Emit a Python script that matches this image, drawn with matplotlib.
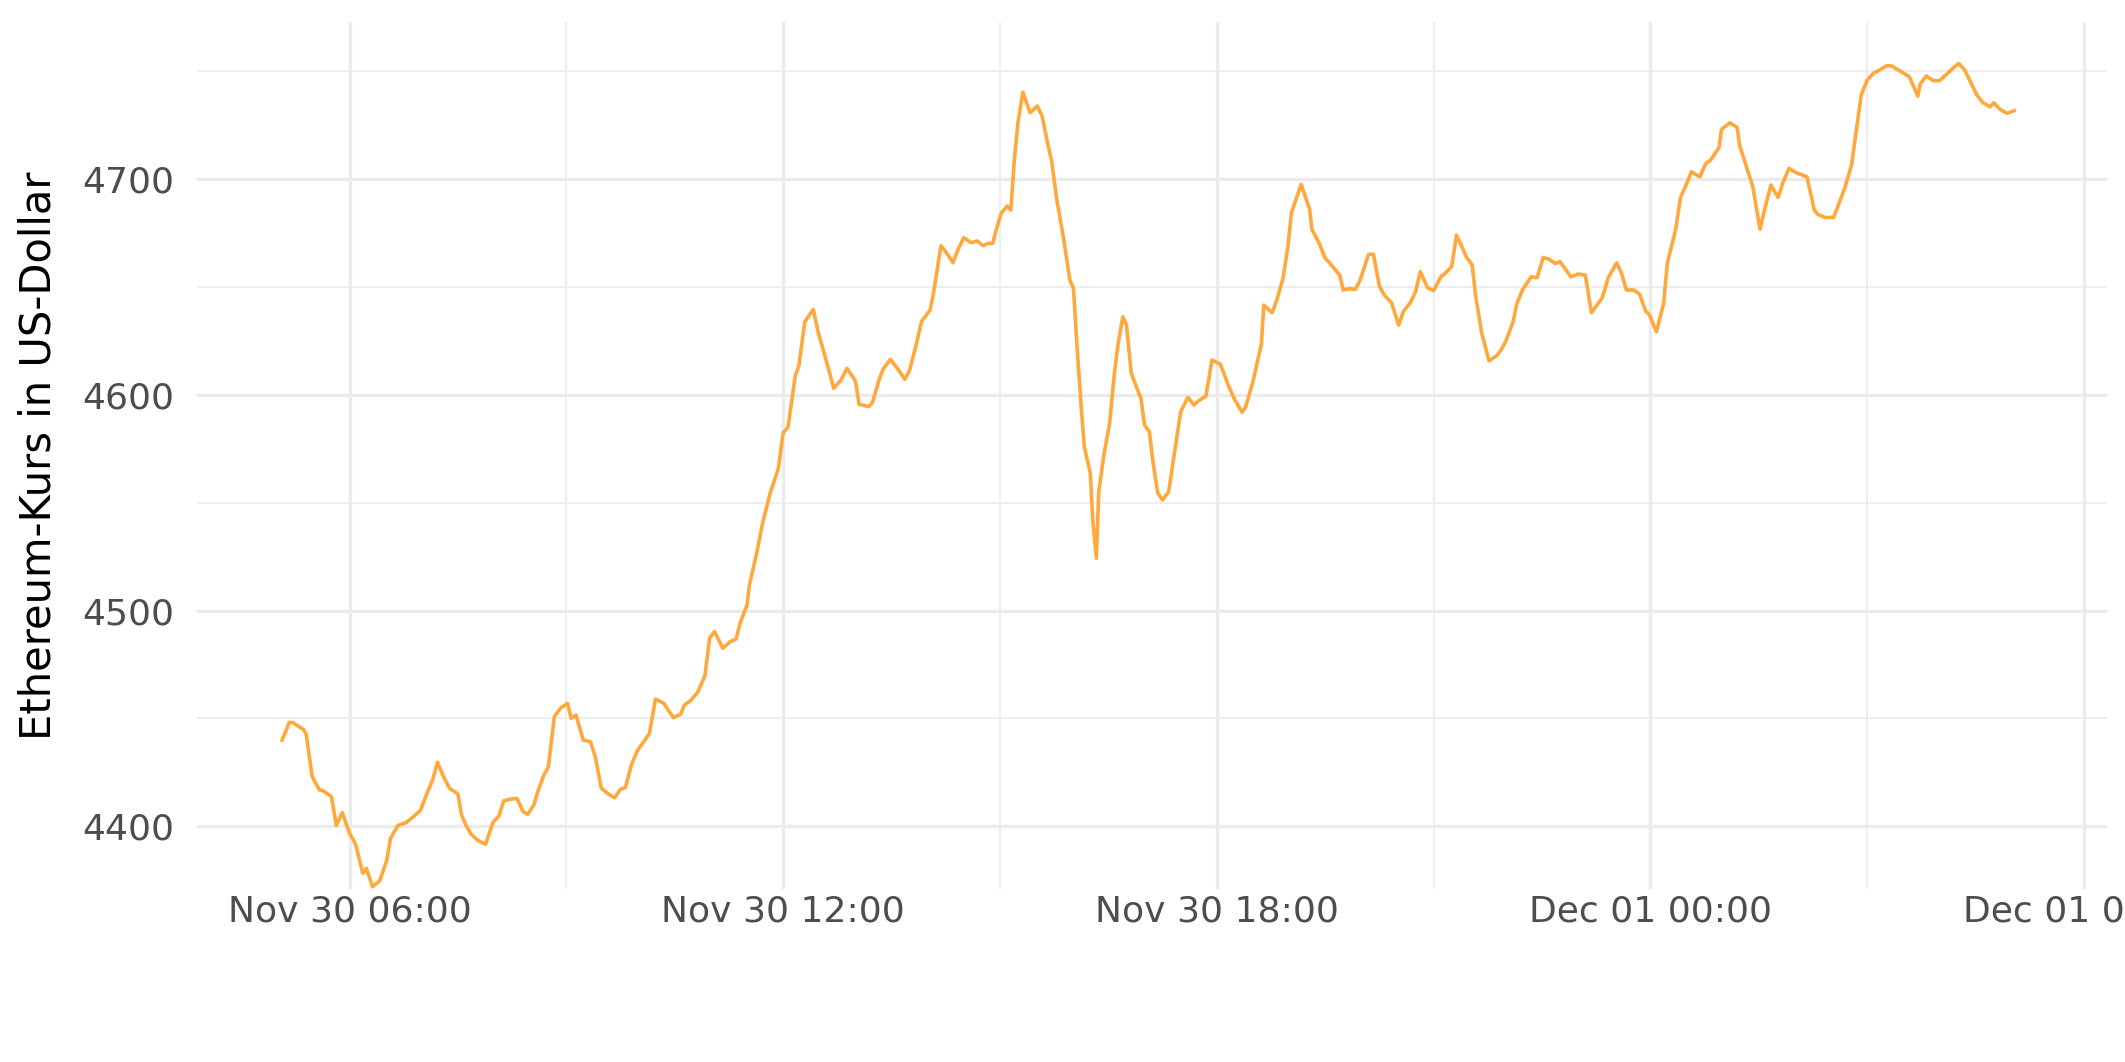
import pandas as pd
import matplotlib
matplotlib.use('Agg')  # no display
import matplotlib.pyplot as plt

# Sample times in minutes after Nov 30 00:00, and the ETH price at each one.
minutes = [
    304, 310, 313, 322, 324, 329, 335, 338, 345, 349, 354, 360, 365, 371, 374,
    379, 385, 391, 394, 400, 407, 413, 419, 424, 429, 433, 438, 443, 450, 453,
    457, 461, 466, 470, 473, 479, 484, 488, 493, 499, 504, 508, 513, 516, 521,
    525, 530, 535, 541, 544, 548, 554, 560, 564, 569, 575, 580, 585, 589, 594,
    599, 604, 609, 614, 621, 625, 629, 635, 638, 643, 649, 655, 659, 663, 670,
    676, 681, 684, 690, 692, 698, 703, 709, 716, 720, 724, 730, 733, 738, 745,
    749, 756, 762, 768, 773, 780, 783, 791, 794, 800, 803, 809, 816, 821, 825,
    830, 835, 842, 845, 851, 854, 861, 865, 870, 876, 881, 886, 890, 894, 897,
    901, 906, 909, 912, 915, 919, 925, 931, 935, 939, 943, 947, 953, 958, 961,
    964, 967, 970, 975, 977, 980, 982, 986, 991, 995, 998, 1002, 1005, 1009, 1017,
    1020, 1024, 1027, 1031, 1035, 1040, 1044, 1050, 1056, 1061, 1065, 1071, 1076, 1083, 1090,
    1095, 1101, 1104, 1110, 1117, 1119, 1126, 1130, 1135, 1139, 1142, 1150, 1157, 1159, 1165,
    1170, 1174, 1182, 1185, 1190, 1195, 1199, 1206, 1210, 1215, 1219, 1225, 1231, 1235, 1241,
    1245, 1249, 1255, 1260, 1266, 1269, 1275, 1279, 1285, 1287, 1292, 1295, 1300, 1306, 1312,
    1316, 1320, 1326, 1329, 1334, 1341, 1346, 1351, 1356, 1361, 1365, 1369, 1374, 1380, 1386,
    1391, 1395, 1400, 1405, 1412, 1416, 1420, 1426, 1431, 1436, 1439, 1445, 1451, 1454, 1461,
    1465, 1470, 1474, 1481, 1486, 1490, 1497, 1499, 1506, 1512, 1514, 1519, 1525, 1531, 1535,
    1540, 1546, 1550, 1555, 1561, 1570, 1576, 1579, 1585, 1592, 1595, 1601, 1607, 1611, 1615,
    1620, 1625, 1630, 1636, 1640, 1647, 1655, 1662, 1664, 1669, 1675, 1680, 1685, 1691, 1696,
    1701, 1706, 1711, 1716, 1722, 1725, 1730, 1736, 1742,
]
prices = [
    4440.0, 4448.2, 4448.1, 4444.7, 4442.7, 4423.1, 4416.9, 4416.6, 4413.8, 4400.5,
    4406.4, 4396.8, 4391.9, 4378.3, 4380.6, 4372.1, 4374.8, 4384.5, 4394.5, 4400.4,
    4401.8, 4404.5, 4407.6, 4415.0, 4421.5, 4429.7, 4423.1, 4417.7, 4415.0, 4405.3,
    4400.2, 4396.4, 4393.8, 4392.5, 4391.8, 4401.8, 4404.9, 4411.9, 4412.6, 4413.0,
    4406.9, 4405.7, 4409.9, 4415.6, 4423.4, 4427.4, 4450.8, 4454.7, 4457.0, 4450.1,
    4451.6, 4440.0, 4439.3, 4432.3, 4417.7, 4415.0, 4413.3, 4417.2, 4418.1, 4428.5,
    4435.1, 4439.0, 4443.1, 4459.0, 4457.0, 4453.5, 4450.4, 4452.1, 4456.2, 4458.2,
    4462.1, 4469.7, 4487.4, 4490.2, 4482.5, 4485.6, 4486.8, 4493.8, 4502.5, 4511.8,
    4526.5, 4540.7, 4553.9, 4565.8, 4582.3, 4584.8, 4608.6, 4613.3, 4633.7, 4639.4,
    4629.1, 4615.2, 4602.9, 4606.7, 4612.1, 4606.3, 4595.5, 4594.4, 4596.2, 4607.5,
    4611.7, 4616.3, 4611.2, 4607.0, 4611.3, 4622.1, 4634.0, 4639.1, 4647.6, 4668.9,
    4666.9, 4661.0, 4666.9, 4672.6, 4670.3, 4671.1, 4668.9, 4670.0, 4670.0, 4676.5,
    4683.9, 4687.3, 4685.4, 4709.3, 4726.3, 4740.0, 4730.5, 4733.6, 4728.9, 4717.8,
    4707.8, 4690.8, 4671.5, 4653.0, 4649.2, 4622.1, 4597.5, 4575.8, 4563.5, 4541.9,
    4524.2, 4555.0, 4571.2, 4586.7, 4609.8, 4623.3, 4636.0, 4632.2, 4609.8, 4598.2,
    4585.9, 4582.8, 4568.9, 4554.3, 4551.2, 4555.0, 4569.7, 4592.0, 4598.7, 4595.1,
    4597.1, 4599.3, 4616.0, 4614.0, 4603.6, 4597.5, 4591.8, 4594.4, 4605.9, 4623.4,
    4641.4, 4637.9, 4644.1, 4653.8, 4668.4, 4684.2, 4697.3, 4685.9, 4676.5, 4670.0,
    4663.1, 4660.7, 4655.3, 4648.4, 4649.0, 4648.7, 4653.0, 4664.9, 4665.0, 4650.2,
    4646.1, 4642.5, 4632.2, 4638.5, 4642.8, 4647.6, 4656.9, 4649.4, 4648.1, 4654.5,
    4655.8, 4659.2, 4673.8, 4666.6, 4663.8, 4660.0, 4645.3, 4628.3, 4615.6, 4617.8,
    4620.6, 4624.8, 4633.7, 4641.9, 4648.7, 4654.5, 4654.1, 4663.5, 4662.6, 4660.7,
    4661.5, 4658.4, 4654.5, 4655.8, 4655.3, 4637.9, 4641.0, 4644.8, 4654.1, 4661.0,
    4656.1, 4648.4, 4648.4, 4646.5, 4638.7, 4637.1, 4629.1, 4642.2, 4660.7, 4676.5,
    4691.3, 4697.5, 4703.1, 4700.8, 4707.0, 4708.6, 4714.4, 4722.8, 4725.8, 4723.7,
    4715.5, 4706.7, 4696.2, 4676.5, 4686.2, 4697.0, 4691.3, 4698.1, 4704.7, 4702.7,
    4700.8, 4685.4, 4683.4, 4682.0, 4682.0, 4686.2, 4695.0, 4706.3, 4722.5, 4738.7,
    4745.6, 4748.7, 4750.2, 4752.2, 4752.2, 4749.9, 4747.1, 4738.2, 4743.8, 4747.5,
    4745.3, 4745.3, 4747.9, 4751.0, 4753.3, 4750.2, 4744.4, 4738.7, 4735.1, 4733.2,
    4735.1, 4732.2, 4730.2, 4731.4,
]

x_tick_labels = ['Nov 30 06:00', 'Nov 30 12:00', 'Nov 30 18:00', 'Dec 01 00:00', 'Dec 01 06:00']
y_ticks = [4400, 4500, 4600, 4700]
y_minor = [4450, 4550, 4650, 4750]

start = pd.Timestamp('2021-11-30 00:00')
times = start + pd.to_timedelta(minutes, unit='min')
x_ticks = pd.date_range('2021-11-30 06:00', periods=5, freq='6h')
x_minor = pd.date_range('2021-11-30 09:00', periods=4, freq='6h')

fig = plt.figure(figsize=(10.625, 5.31), dpi=200)
ax = fig.add_axes([0.0925, 0.163, 0.899, 0.8165])

grid = '#EBEBEB'
for t in x_ticks:
    ax.axvline(t, color=grid, lw=1.2, zorder=0)
for t in x_minor:
    ax.axvline(t, color=grid, lw=0.6, zorder=0)
for y in y_ticks:
    ax.axhline(y, color=grid, lw=1.2, zorder=0)
for y in y_minor:
    ax.axhline(y, color=grid, lw=0.6, zorder=0)

ax.plot(times, prices, color='#FFA83C', lw=1.3, zorder=2)

ax.set_xlim(start + pd.Timedelta(minutes=233), start + pd.Timedelta(minutes=1819))
ax.set_ylim(4371.1, 4772.6)
ax.set_xticks(x_ticks)
ax.set_xticklabels(x_tick_labels)
ax.set_yticks(y_ticks)
ax.set_yticklabels([str(v) for v in y_ticks])
ax.tick_params(length=0, labelsize=13, labelcolor='#4D4D4D')
ax.tick_params(axis='y', pad=8)
ax.tick_params(axis='x', pad=2)
for s in ax.spines.values():
    s.set_visible(False)

# y title, centred on the panel like ggplot does
ax.text(-0.0825, 0.5, 'Ethereum-Kurs in US-Dollar', transform=ax.transAxes,
        rotation=90, ha='center', va='center', fontsize=15, color='black')

fig.savefig('out.png', dpi=200)
